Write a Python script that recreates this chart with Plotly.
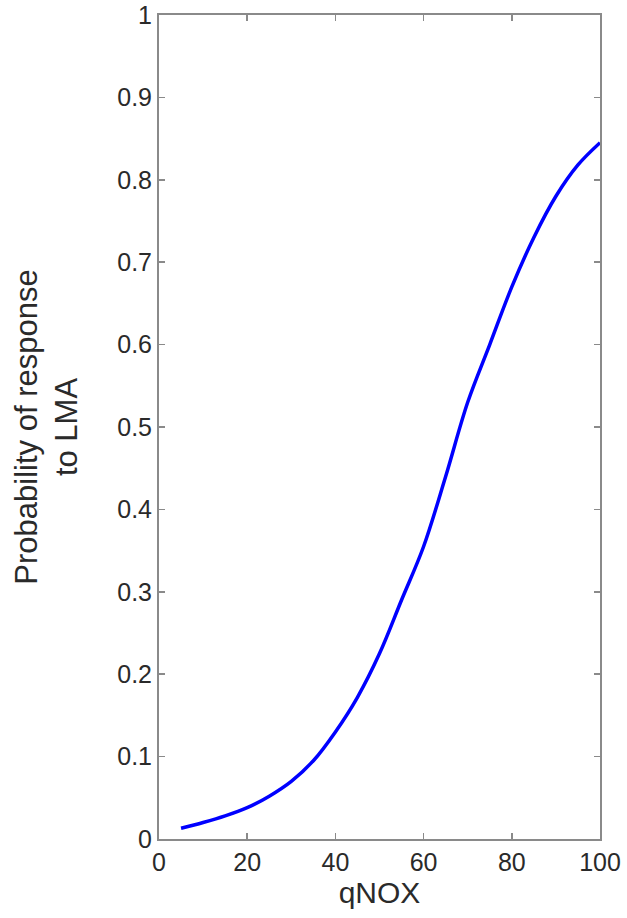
import plotly.graph_objects as go

qnox = [5, 10, 15, 20, 25, 30, 35, 40, 45, 50, 55, 60, 65, 70, 75, 80, 85, 90, 95, 100]
prob = [0.013, 0.020, 0.028, 0.038, 0.052, 0.070, 0.095, 0.130, 0.172, 0.225,
        0.290, 0.355, 0.440, 0.530, 0.600, 0.670, 0.730, 0.780, 0.818, 0.845]

x_ticks = [0, 20, 40, 60, 80, 100]
y_ticks = [0, 0.1, 0.2, 0.3, 0.4, 0.5, 0.6, 0.7, 0.8, 0.9, 1]
y_tick_text = ["0", "0.1", "0.2", "0.3", "0.4", "0.5", "0.6", "0.7", "0.8", "0.9", "1"]

fig = go.Figure()
fig.add_trace(go.Scatter(x=qnox, y=prob, mode="lines",
                         line=dict(color="#0000ff", width=3.5, shape="spline"),
                         showlegend=False, hoverinfo="skip"))

tick_font = dict(family="Liberation Sans, Arial, sans-serif", size=25, color="#2a2a2a")
axis_common = dict(showgrid=False, zeroline=False, showline=True, linecolor="#8a8a8a",
                   linewidth=2, mirror="ticks", ticks="inside", ticklen=6,
                   tickcolor="#8a8a8a", tickwidth=1.5, tickfont=tick_font,
                   automargin=False)

fig.update_layout(
    width=627, height=918,
    margin=dict(l=159, r=27, t=15, b=79),
    paper_bgcolor="white", plot_bgcolor="white",
    font=tick_font,
    xaxis=dict(range=[0, 100], tickvals=x_ticks, ticktext=[str(v) for v in x_ticks],
               title=dict(text="qNOX", font=dict(family="Liberation Sans, Arial, sans-serif",
                                                 size=30, color="#2a2a2a"), standoff=6),
               **axis_common),
    yaxis=dict(range=[0, 1], tickvals=y_ticks, ticktext=y_tick_text,
               title=dict(text="Probability of response<br>to LMA",
                          font=dict(family="Liberation Sans, Arial, sans-serif",
                                    size=31, color="#2a2a2a"), standoff=30),
               **axis_common),
)

fig.write_html("out.html",
               config={"displayModeBar": False, "staticPlot": True},
               post_script="document.body.style.margin='0';document.body.style.overflow='hidden';")
